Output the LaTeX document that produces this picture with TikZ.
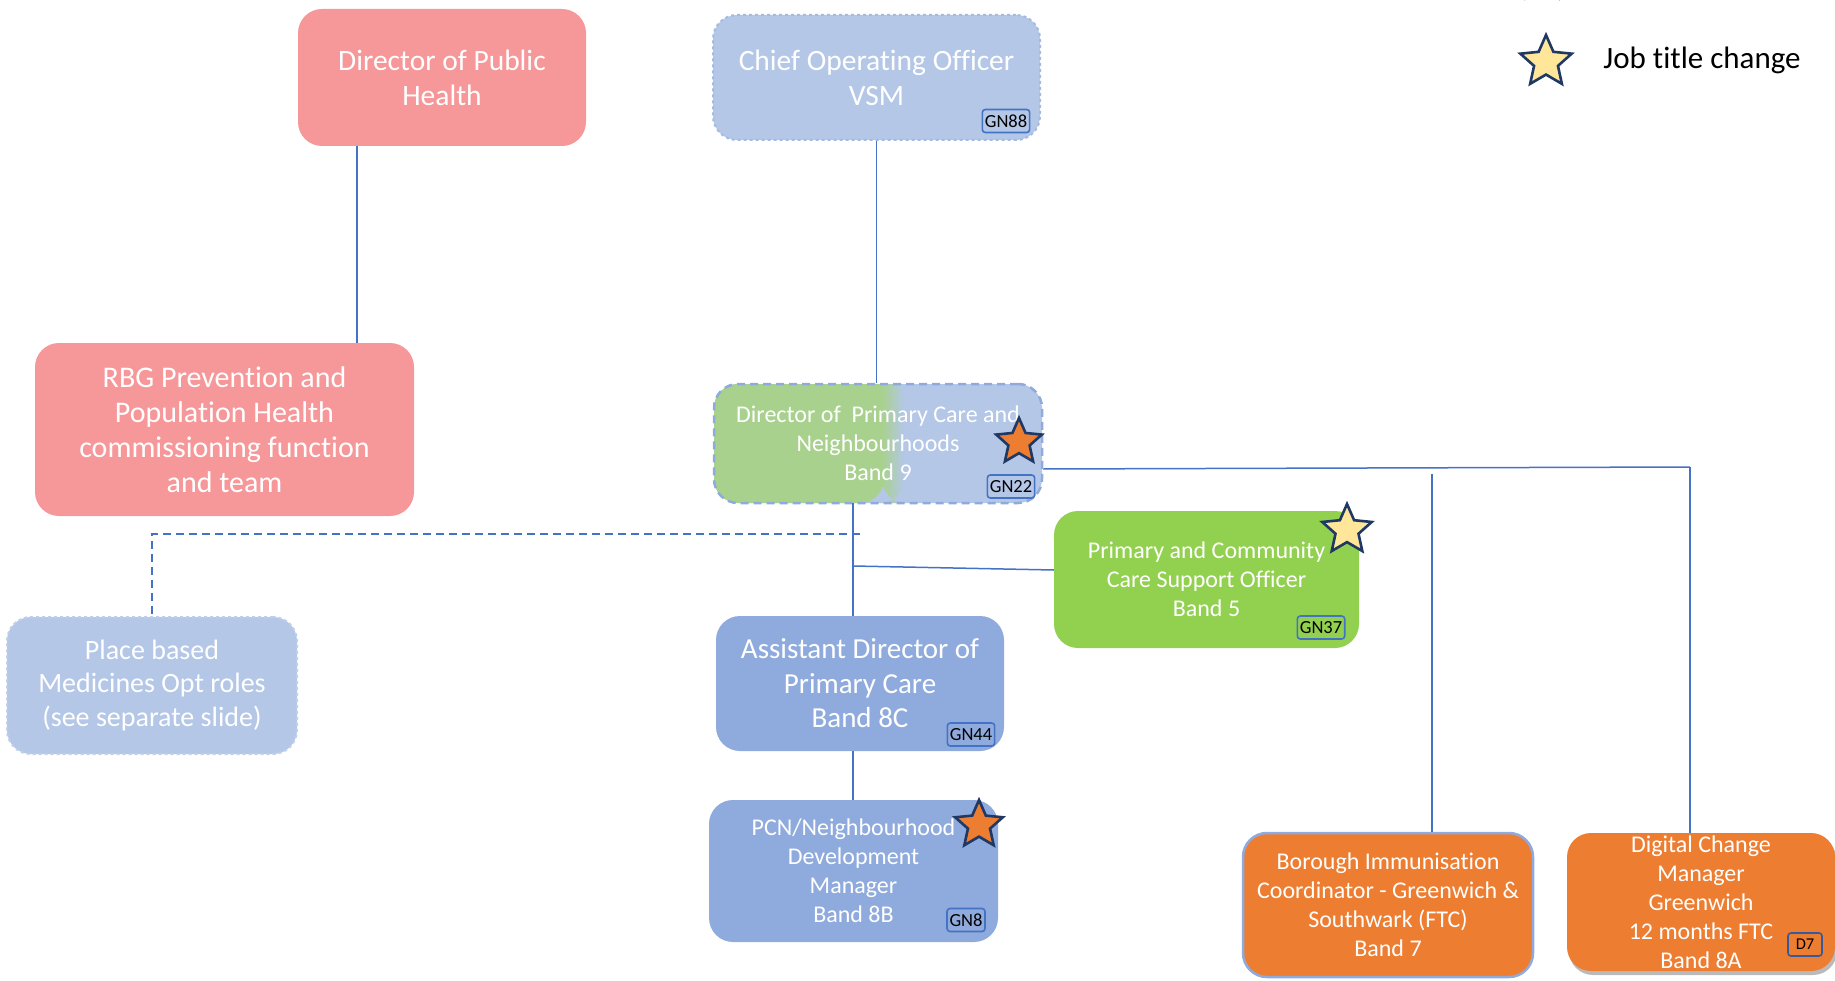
\documentclass[tikz,border=0pt]{standalone}
\usepackage{fontspec}
\setmainfont{Carlito}[Ligatures=NoCommon]
\usetikzlibrary{shapes.geometric,shadows}
\definecolor{pinkbox}{HTML}{F69799}
\definecolor{lightblue}{HTML}{B4C7E7}
\definecolor{midblue}{HTML}{8FAADC}
\definecolor{dashblue}{HTML}{A3BAE3}
\definecolor{lightgreen}{HTML}{A9D18E}
\definecolor{brightgreen}{HTML}{92D050}
\definecolor{orangebox}{HTML}{ED7D31}
\definecolor{lineblue}{HTML}{4472C4}
\definecolor{navy}{HTML}{1F3864}
\definecolor{staryellow}{HTML}{FFE699}
\tikzset{
  box/.style={rounded corners=24, inner sep=0pt, align=center, text=white},
  bigtext/.style={font=\fontsize{29.5}{35}\selectfont},
  smalltext/.style={font=\fontsize{24}{29}\selectfont},
  tag/.style={draw=lineblue, line width=1.6pt, rounded corners=3, inner xsep=2.5pt, inner ysep=1pt,
    minimum height=23pt, text=black, font=\fontsize{18.5}{20}\selectfont},
  starmark/.style={star, star points=5, star point ratio=2.15, draw=navy, line width=2.6pt, inner sep=0pt},
  conn/.style={draw=lineblue, line width=1.5pt},
  dconn/.style={draw=lineblue, line width=2pt, dash pattern=on 8pt off 5pt},
}
\begin{document}
\begin{tikzpicture}[x=1pt,y=-1pt]
\useasboundingbox (0,0) rectangle (1835,981);

% boxes
\node[box, bigtext, fill=pinkbox, minimum width=288, minimum height=137] (dph) at (442,77.5) {Director of Public\\Health};
\node[box, bigtext, fill=lightblue, draw=dashblue, line width=2pt, dashed, minimum width=327, minimum height=125] (coo) at (876.5,77.5) {Chief Operating Officer\\VSM};
\node[box, font=\fontsize{30}{35}\selectfont, fill=pinkbox, minimum width=379, minimum height=173] (rbg) at (224.5,429.5) {RBG Prevention and\\Population Health\\commissioning function\\and team};
\node[box, smalltext, draw=midblue, line width=2.5pt, dash pattern=on 8pt off 5pt, minimum width=328, minimum height=119,
  path picture={
    \coordinate (pa) at (path picture bounding box.south west);
    \fill[lightblue] (pa) rectangle ++(400pt,200pt);
    \fill[lightgreen] (pa) rectangle ++(170pt,200pt);
    \shade[left color=lightgreen, right color=lightblue] ([xshift=168pt]pa) rectangle ++(22pt,200pt);
  }] (dpc) at (878,443.5) {Director of\ \ Primary Care and\\Neighbourhoods\\Band 9};
\node[box, smalltext, fill=brightgreen, minimum width=305, minimum height=137] (pcc) at (1206.5,579.5) {Primary and Community\\Care Support Officer\\Band 5};
\node[box, font=\fontsize{28}{33.5}\selectfont, fill=lightblue, draw=dashblue!70!white, line width=2pt, dashed, minimum width=290, minimum height=137] (place) at (152,685.5) {Place based\\Medicines Opt roles\\(see separate slide)};
\node[box, font=\fontsize{29}{34.5}\selectfont, fill=midblue, minimum width=288, minimum height=135] (ad) at (860,683.5) {Assistant Director of\\Primary Care\\Band 8C};
\node[box, smalltext, fill=midblue, minimum width=289, minimum height=142] (pcn) at (853.5,871) {PCN/Neighbourhood\\Development\\Manager\\Band 8B};
\node[box, smalltext, fill=orangebox, draw=midblue, line width=2.5pt, minimum width=290, minimum height=144] (bic) at (1388,905) {Borough Immunisation\\Coordinator - Greenwich \&\\Southwark (FTC)\\Band 7};
\node[box, smalltext, fill=orangebox, minimum width=268, minimum height=138,
  drop shadow={shadow xshift=2pt, shadow yshift=-4pt, opacity=0.45, fill=black!60}] (dcm) at (1701,902) {Digital Change\\Manager\\Greenwich\\12 months FTC\\Band 8A};

% tags
\node[tag] (t88) at (1006,121) {GN88};
\node[tag] (t22) at (1011,486.5) {GN22};
\node[tag] (t37) at (1321,627.5) {GN37};
\node[tag] (t44) at (971,734.5) {GN44};
\node[tag] (t8) at (966,920) {GN8};
\node[tag, draw=lineblue!80!black, minimum width=34pt, font=\fontsize{16.5}{18}\selectfont] (td7) at (1805,944.5) {D7};

% connectors
\draw[conn] (dph.south -| 357,0) -- (rbg.north -| 357,0);
\draw[conn] (coo.south) -- (coo.south |- dpc.north);
\coordinate (j1) at (1690,467);
\draw[conn] (dpc.east |- 0,469) -- (j1);
\draw[conn] (j1) -- (j1 |- dcm.north);
\coordinate (j2) at (1432,474);
\draw[conn] (j2) -- (bic.north -| j2);
\coordinate (b0) at (853,503);
\draw[conn] (b0) -- (ad.north -| b0);
\coordinate (b1) at (853,566);
\draw[conn] (b1) -- (pcc.west |- 0,570);
\draw[conn] (ad.south -| b0) -- (pcn.north -| b0);
\coordinate (d1) at (860,534);
\draw[dconn] (d1) -| (place.north);

% stars
\node[starmark, fill=orangebox, minimum size=48pt] (s1) at (1019,442) {};
\node[starmark, fill=staryellow, minimum size=52pt] (s2) at (1347,530) {};
\node[starmark, fill=orangebox, minimum size=50pt] (s3) at (979,825) {};
\node[starmark, fill=staryellow, minimum size=54pt] (s4) at (1546,62) {};
\node[starmark, fill=staryellow, minimum size=54pt] (s5) at (1542,-24) {};

% legend text
\node[anchor=center, font=\fontsize{31}{36}\selectfont, text=black] (leg) at (1702,60) {Job title change};
\end{tikzpicture}
\end{document}
